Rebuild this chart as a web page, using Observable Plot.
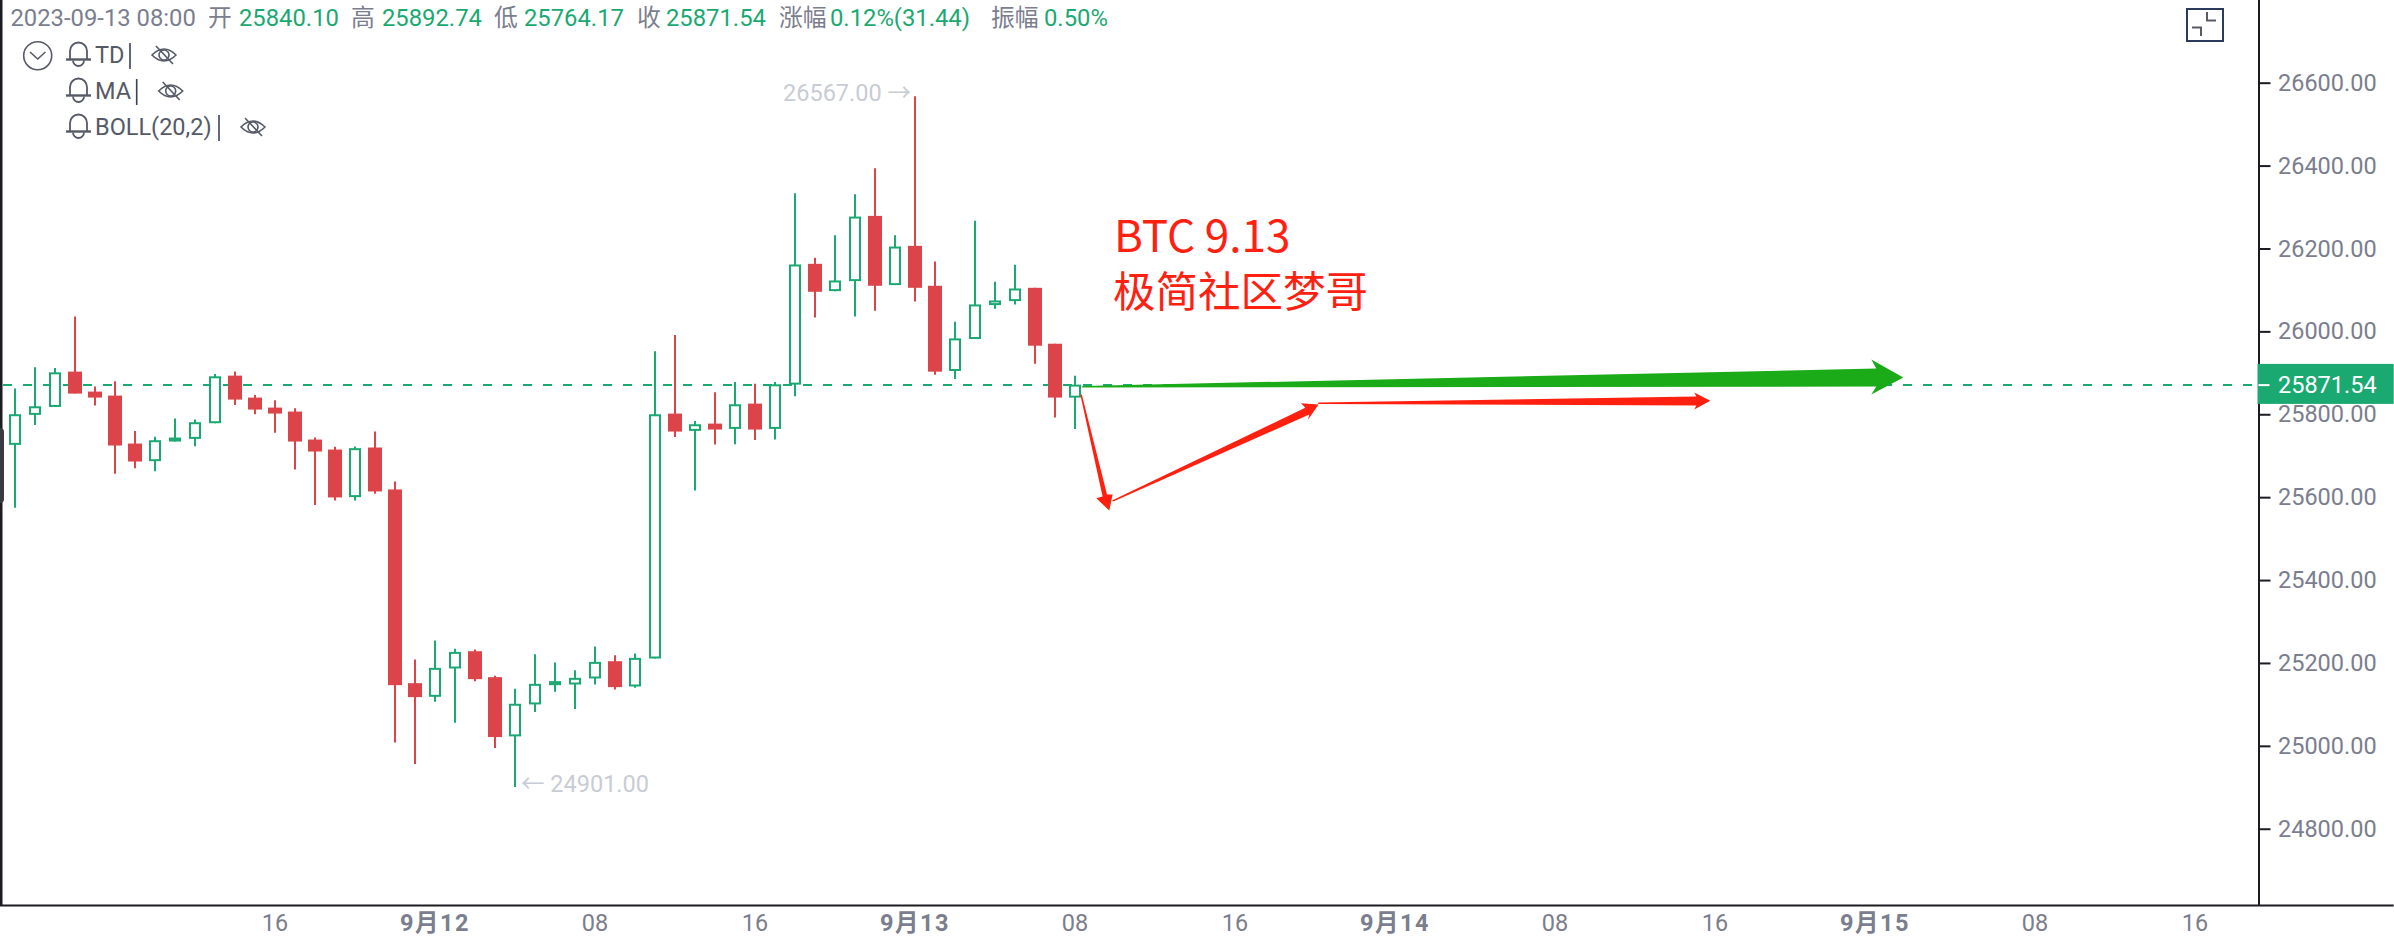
<!DOCTYPE html>
<html lang="zh">
<head>
<meta charset="utf-8">
<script src="https://cdn.jsdelivr.net/npm/d3@7"></script>
<script src="https://cdn.jsdelivr.net/npm/@observablehq/plot@0.6"></script>
<style>
html,body{margin:0;padding:0;background:#fff;}
#wrap{position:relative;width:2394px;height:944px;overflow:hidden;font-family:Roboto,"Noto Sans CJK SC",sans-serif;}
#wrap svg{display:block;}
.h{position:absolute;top:3px;font-size:23.8px;line-height:30px;white-space:nowrap;color:#7a7e8e;}
.h.g{color:#1aa971;}
.l{position:absolute;left:95px;font-size:23.5px;line-height:30px;white-space:nowrap;color:#555a66;}
.dayaxis text{letter-spacing:1.5px;}
#icons{position:absolute;left:0;top:0;pointer-events:none;}
#handle{position:absolute;left:0;top:428px;width:4px;height:75px;background:#3a3a44;border-radius:0 4px 4px 0;}
</style>
</head>
<body>
<div id="wrap"></div>
<script>
// One-hour candles; index 0 is 2023-09-11 03:00, index 53 is 2023-09-13 08:00.
const opens  = [25726.2,25798.5,25817.7,25902.9,25854.7,25845,25729.4,25686.8,25734.2,25740.6,25778.4,25893.2,25840.2,25816.1,25806.5,25739,25714.9,25600.1,25719.8,25618.6,25151.2,25118.3,25186.6,25228.3,25165.7,25022.8,25099.9,25146.4,25148,25162.5,25204.2,25143.2,25210.7,25801.6,25759.9,25777.5,25764.7,25825.7,25764.7,25871.5,26163,26097.1,26121.2,26278.6,26111.6,26206.3,26110,25904.4,25981.5,26063.4,26073,26105.1,25970.2,25840.10];
const highs  = [25861.9,25913.3,25911.7,26036.1,25866.7,25879.6,25759.9,25745.5,25789.6,25787.2,25897.2,25902.9,25846.6,25833.8,25814.5,25743.9,25721.4,25722.2,25758.3,25637.9,25208.3,25254,25234,25232.3,25168.9,25137.6,25221.1,25201,25182.6,25239.6,25218.7,25222.7,25951.8,25991.1,25783.9,25853,25877.9,25873.9,25877.9,26333.2,26177.4,26232,26330.8,26393.4,26232,26567,26168.6,26023.2,26266.6,26119.6,26160.6,26105.1,25970.2,25892.74];
const lows   = [25574.4,25774.4,25817.7,25849.9,25820.9,25656.3,25670,25662.8,25734.2,25723,25778.4,25822.6,25800.1,25755.1,25666.8,25580.8,25592.1,25592.1,25608.2,25008.3,24956.1,25106.3,25055.7,25156.1,24994.7,24901,25081.4,25130.4,25088.6,25148,25136,25140,25210.7,25745.4,25616.1,25726.9,25727.7,25738.2,25739,25843.4,26033.7,26097.1,26036.1,26049.7,26111.6,26072.2,25895.6,25885.1,25981.5,26054.6,26065,25922.1,25792,25764.17];
const closes = [25800.1,25819.3,25901.2,25849.9,25840.2,25724.6,25686,25737.4,25743.9,25780.8,25891.6,25835.4,25811.3,25801.7,25734.2,25710.1,25599.3,25718.2,25613.8,25146.4,25117.5,25188.2,25226.7,25160.9,25021.2,25101.5,25149.6,25156.1,25164.1,25202.6,25141.6,25212.3,25800,25758.3,25775.9,25763.1,25824.1,25763.1,25872.3,26161.4,26095.5,26122.8,26277,26110,26204.7,26105.1,25902.8,25983.1,26065,26074.6,26103.5,25965.4,25840.2,25871.54];

const yTicks = [26600,26400,26200,26000,25800,25600,25400,25200,25000,24800];
const hourTickPos = [13,29,37,53,61,77,85,101,109];
const hourTickText = ["16","08","16","08","16","08","16","08","16"];
const dayTickPos = [21,45,69,93];
const dayTickText = ["9月12","9月13","9月14","9月15"];

const lastPrice = 25871.54;
const xDomain = [-0.725, 112.2];
const xFarRight = 118.96;
const yDomain = [24616, 26799.5];

const hiLabel = {x:45, y:26567, text:"26567.00 →"};
const loLabel = {x:25, y:24901, text:"← 24901.00"};
const noteX = [54.95, 54.9];
const noteY = [26226, 26093.7];
const noteSize = [44, 42.5];
const noteText = ["BTC 9.13","极简社区梦哥"];

const greenArrowX = [53.365,93.065,92.815,94.415,92.815,93.065,53.365];
const greenArrowY = [25869.3,25911.6,25933.3,25889.8,25848.8,25868.1,25865.7];
const redArrow1X = [53.265,53.34,54.6,54.88,54.715,54.065,54.38];
const redArrow1Y = [25848.8,25848.8,25607.5,25607.5,25568.9,25598.6,25602.7];
const redArrow2X = [54.85,54.915,64.715,64.65,65.18,64.3,64.515];
const redArrow2Y = [25593.1,25590.6,25800.6,25787.8,25824.7,25827.8,25816.7];
const redArrow3X = [65.165,84.065,83.965,84.765,83.965,84.065,65.165];
const redArrow3Y = [25829.5,25844,25853.6,25833.6,25812.6,25822.3,25825.9];

const GREEN = "#1aa971", RED = "#dc4449", ARROW_RED = "#ff2010", ARROW_GREEN = "#1bab18";
const AXIS = "#1c1c22", LABEL = "#7a7e8e", FAINT = "#c8ccd4";
const FONT = 23.5;

const idx = d3.range(opens.length);
const up = idx.filter(i => closes[i] >= opens[i]);
const down = idx.filter(i => closes[i] < opens[i]);

function arrow(xs, ys, color) {
  return Plot.line(d3.range(xs.length), {x: i => xs[i], y: i => ys[i], fill: color, stroke: "none", curve: "linear-closed"});
}

const chart = Plot.plot({
  width: 2394, height: 944,
  marginLeft: 0, marginRight: 135.5, marginTop: 0, marginBottom: 39,
  style: {fontFamily: 'Roboto,"Noto Sans CJK SC",sans-serif', background: "#fff"},
  x: {domain: xDomain},
  y: {domain: yDomain},
  marks: [
    // last price dashed line
    Plot.ruleY([lastPrice], {stroke: GREEN, strokeWidth: 2, strokeDasharray: "9 11", strokeDashoffset: -3}),
    // wicks
    Plot.ruleX(up, {x: i => i, y1: i => lows[i], y2: i => highs[i], stroke: GREEN, strokeWidth: 2}),
    Plot.ruleX(down, {x: i => i, y1: i => lows[i], y2: i => highs[i], stroke: RED, strokeWidth: 2}),
    // bodies
    Plot.rect(up, {x1: i => i - 0.225, x2: i => i + 0.275, y1: i => opens[i], y2: i => closes[i], fill: "#fff", stroke: GREEN, strokeWidth: 2, insetTop: 1, insetBottom: 1}),
    Plot.rect(down, {x1: i => i - 0.325, x2: i => i + 0.375, y1: i => opens[i], y2: i => closes[i], fill: RED}),
    // hi / lo labels
    Plot.text([hiLabel], {x: "x", y: "y", text: "text", textAnchor: "end", dx: -4, dy: -3, fontSize: FONT, fill: FAINT}),
    Plot.text([loLabel], {x: "x", y: "y", text: "text", textAnchor: "start", dx: 6, dy: -3, fontSize: FONT, fill: FAINT}),
    // annotation arrows
    arrow(greenArrowX, greenArrowY, ARROW_GREEN),
    arrow(redArrow1X, redArrow1Y, ARROW_RED),
    arrow(redArrow2X, redArrow2Y, ARROW_RED),
    arrow(redArrow3X, redArrow3Y, ARROW_RED),
    // annotation text
    Plot.text(noteText, {x: (d, i) => noteX[i], y: (d, i) => noteY[i], text: d => d, textAnchor: "start", fontSize: (d, i) => noteSize[i], fill: ARROW_RED, fontFamily: '"Noto Sans CJK SC",sans-serif'}),
    // axes
    Plot.ruleX([xDomain[1]], {y1: yDomain[0], y2: yDomain[1], stroke: AXIS, strokeWidth: 2}),
    Plot.ruleX([xDomain[0]], {y1: yDomain[0], y2: yDomain[1], stroke: AXIS, strokeWidth: 4}),
    Plot.ruleY([yDomain[0]], {x1: xDomain[0], x2: xFarRight, stroke: AXIS, strokeWidth: 2}),
    Plot.axisY({anchor: "right", ticks: yTicks, tickFormat: d3.format(".2f"), tickSize: 11, tickPadding: 8, strokeWidth: 2, stroke: AXIS, fill: LABEL, fontSize: FONT, label: null}),
    Plot.axisX({anchor: "bottom", ticks: hourTickPos, tickFormat: d => hourTickText[hourTickPos.indexOf(d)], tickSize: 0, tickPadding: 9, fill: LABEL, fontSize: FONT, label: null}),
    Plot.axisX({anchor: "bottom", ticks: dayTickPos, tickFormat: d => dayTickText[dayTickPos.indexOf(d)], tickSize: 0, tickPadding: 9, fill: LABEL, fontSize: FONT, fontWeight: "bold", label: null, className: "dayaxis"}),
    // last price tag
    Plot.rect([lastPrice], {x1: xDomain[1] - 0.05, x2: xFarRight, y1: 25921.5, y2: 25825, fill: GREEN}),
    Plot.ruleY([lastPrice], {x1: xDomain[1], x2: xDomain[1] + 0.55, stroke: "#fff", strokeWidth: 2}),
    Plot.text([lastPrice], {x: xDomain[1], y: d => d, text: d => d3.format(".2f")(d), textAnchor: "start", dx: 19, fontSize: FONT, fill: "#fff"})
  ]
});

const wrap = document.getElementById("wrap");
wrap.appendChild(chart);

// header readout
const header = [
  ["2023-09-13 08:00",10.5,0],["开",208,0],["25840.10",239,1],["高",351,0],["25892.74",382,1],
  ["低",494,0],["25764.17",524,1],["收",637,0],["25871.54",666,1],["涨幅",779,0],
  ["0.12%(31.44)",830,1],["振幅",991,0],["0.50%",1044,1]
];
for (const [t, x, g] of header) {
  const s = document.createElement("span");
  s.className = "h" + (g ? " g" : "");
  s.style.left = x + "px";
  s.textContent = t;
  wrap.appendChild(s);
}
// indicator legend
const rows = [["TD",55,130,164],["MA",91,136.7,170.7],["BOLL(20,2)",127,219,253]];
const ink = "#555a66";
let icons = `<circle cx="37.7" cy="55.7" r="14" fill="none" stroke="${ink}" stroke-width="1.6"/>
<path d="M30 52l7.7 7 7.7-7" fill="none" stroke="${ink}" stroke-width="1.6"/>`;
for (const [t, cy, bar, eye] of rows) {
  const l = document.createElement("span");
  l.className = "l";
  l.style.top = (cy - 15) + "px";
  l.textContent = t;
  wrap.appendChild(l);
  icons += `<path d="M70 ${cy+4}v-8a8.5 8.5 0 0 1 17 0v8" fill="none" stroke="${ink}" stroke-width="1.8"/>
<path d="M66 ${cy+4.5}h25" stroke="${ink}" stroke-width="2.4"/>
<path d="M73 ${cy+5.5}a5.5 5.5 0 0 0 11 0" fill="none" stroke="${ink}" stroke-width="1.8"/>
<path d="M${bar} ${cy-12}v26" stroke="#3c4160" stroke-width="1.6"/>
<g transform="translate(${eye} ${cy})" fill="none" stroke="${ink}" stroke-width="1.6">
<path d="M-12 0q12-12 24 0q-12 12-24 0z"/><circle r="5"/><path d="M-8-9L9 9"/></g>`;
}
// collapse button
icons += `<rect x="2187" y="9" width="36" height="32" fill="#fff" stroke="#2c3a5e" stroke-width="2"/>
<path d="M2192 27.5h9v8.5M2207 12v8.5h9" fill="none" stroke="#5a5a64" stroke-width="2"/>`;
const ov = document.createElementNS("http://www.w3.org/2000/svg", "svg");
ov.setAttribute("id", "icons");
ov.setAttribute("width", 2394);
ov.setAttribute("height", 944);
ov.innerHTML = icons;
wrap.appendChild(ov);
const hd = document.createElement("div");
hd.id = "handle";
wrap.appendChild(hd);
</script>
</body>
</html>
